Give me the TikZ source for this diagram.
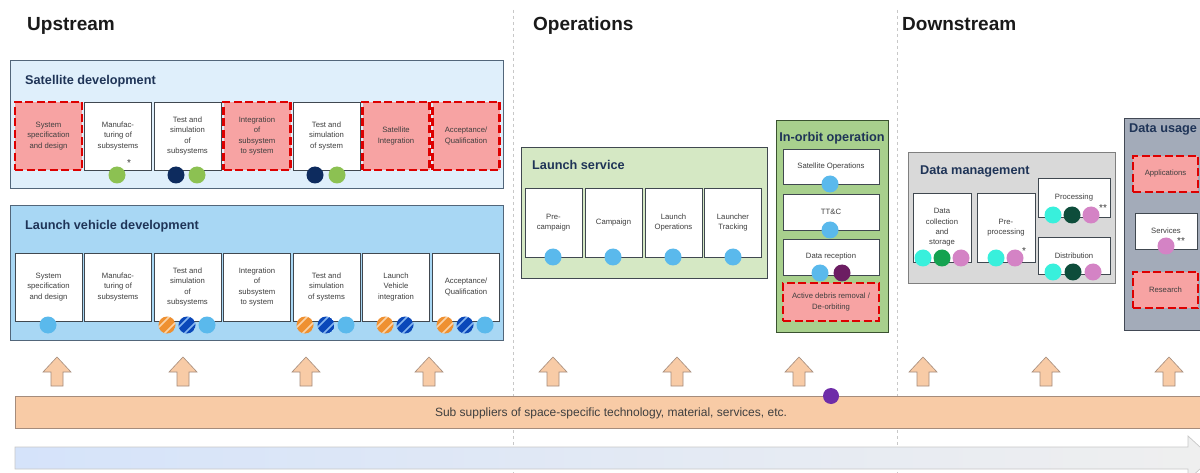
\documentclass[tikz,border=0pt]{standalone}
\usepackage{fontspec}
\setmainfont{Liberation Sans}
\definecolor{headtext}{HTML}{1A1A1A}
\definecolor{titletext}{HTML}{1F3457}
\definecolor{boxtext}{HTML}{3F3F3F}
\definecolor{boxline}{HTML}{404850}
\definecolor{redline}{HTML}{DD0000}
\definecolor{redfill}{HTML}{F7A3A3}
\definecolor{satfill}{HTML}{DFEFFB}
\definecolor{satline}{HTML}{52667A}
\definecolor{lvfill}{HTML}{A8D7F4}
\definecolor{lsfill}{HTML}{D5E8C4}
\definecolor{orbfill}{HTML}{A8D08D}
\definecolor{orbline}{HTML}{3A5230}
\definecolor{dmfill}{HTML}{D9D9D9}
\definecolor{dmline}{HTML}{7F7F7F}
\definecolor{dufill}{HTML}{A3ABB9}
\definecolor{duline}{HTML}{424955}
\definecolor{arrowfill}{HTML}{F8CBA6}
\definecolor{arrowline}{HTML}{A58C7C}
\definecolor{sepline}{HTML}{C8C8C8}
\definecolor{chainleft}{HTML}{D5E3FA}
\definecolor{chainmid}{HTML}{E6F0DE}
\definecolor{chainright}{HTML}{EFEFEF}
\definecolor{dotgreen}{HTML}{8CC152}
\definecolor{dotnavy}{HTML}{0D2B5E}
\definecolor{dotsky}{HTML}{5AB9EC}
\definecolor{dotorange}{HTML}{EF9030}
\definecolor{dotorangelt}{HTML}{FAD3A8}
\definecolor{dotblue}{HTML}{0A48BA}
\definecolor{dotbluelt}{HTML}{86B6F0}
\definecolor{dotcyan}{HTML}{38F0DC}
\definecolor{dotmid}{HTML}{14A250}
\definecolor{dotdark}{HTML}{0E4D3B}
\definecolor{dotpink}{HTML}{D483C5}
\definecolor{dotplum}{HTML}{6C1D62}
\definecolor{dotviolet}{HTML}{6F2DA8}
\newcommand{\stripedot}[4]{%
  \begin{scope}[shift={(#1,#2)}]
    \clip (0,0) circle (8.5pt);
    \fill[#3] (0,0) circle (8.5pt);
    \draw[#4, line width=1.6pt] (-11,5) -- (5,-11);
    \draw[#4, line width=1.6pt] (-5,11) -- (11,-5);
  \end{scope}}
\begin{document}
\begin{tikzpicture}[x=1pt,y=-1pt,
  box/.style={draw=boxline, fill=white, line width=0.8pt, align=center, text=boxtext,
    font=\fontsize{7.7}{10.3}\selectfont, inner sep=1pt},
  redbox/.style={box, draw=redline, fill=redfill, line width=2.6pt, dash pattern=on 8pt off 3.5pt},
  big/.style={minimum width=67pt, minimum height=68pt},
  head/.style={anchor=base west, inner sep=0pt, font=\fontsize{19}{22}\selectfont\bfseries, text=headtext},
  title/.style={anchor=base west, inner sep=0pt, font=\fontsize{12.7}{15}\selectfont\bfseries, text=titletext},
  uparrow/.style={draw=arrowline, fill=arrowfill, line width=0.6pt},
  star/.style={inner sep=0pt, font=\fontsize{10}{10}\selectfont, text=boxtext}]
\clip (0,0) rectangle (1200,473);
\fill[white] (0,0) rectangle (1200,473);

% separators and section heads
\draw[sepline, dashed, line width=0.6pt] (513,10) -- (513,473);
\draw[sepline, dashed, line width=0.6pt] (897,10) -- (897,473);
\node[head] (up) at (27,31) {Upstream};
\node[head] (ops) at (533,31) {Operations};
\node[head] (down) at (902,31) {Downstream};

% satellite development
\draw[fill=satfill, draw=satline, line width=0.8pt] (10,60) rectangle (503,188);
\node[title] (satt) at (25,85) {Satellite development};
\node[redbox, big] (sat1) at (48.5,136) {System\\specification\\and design};
\node[box, big] (sat2) at (118,136) {Manufac-\\turing of\\subsystems};
\node[box, big] (sat3) at (187.5,136) {Test and\\simulation\\of\\subsystems};
\node[redbox, big] (sat4) at (257,136) {Integration\\of\\subsystem\\to system};
\node[box, big] (sat5) at (326.5,136) {Test and\\simulation\\of system};
\node[redbox, big] (sat6) at (396,136) {Satellite\\Integration};
\node[redbox, big] (sat7) at (466,136) {Acceptance/\\Qualification};
\fill[dotgreen] (117,175) circle (8.5pt);
\node[star] (st1) at (129,163) {*};
\fill[dotnavy] (176,175) circle (8.5pt);
\fill[dotgreen] (197,175) circle (8.5pt);
\fill[dotnavy] (315,175) circle (8.5pt);
\fill[dotgreen] (337,175) circle (8.5pt);

% launch vehicle development
\draw[fill=lvfill, draw=satline, line width=0.8pt] (10,205) rectangle (503,340);
\node[title] (lvt) at (25,230) {Launch vehicle development};
\node[box, big] (lv1) at (48.5,287) {System\\specification\\and design};
\node[box, big] (lv2) at (118,287) {Manufac-\\turing of\\subsystems};
\node[box, big] (lv3) at (187.5,287) {Test and\\simulation\\of\\subsystems};
\node[box, big] (lv4) at (257,287) {Integration\\of\\subsystem\\to system};
\node[box, big] (lv5) at (326.5,287) {Test and\\simulation\\of systems};
\node[box, big] (lv6) at (396,287) {Launch\\Vehicle\\integration};
\node[box, big] (lv7) at (466,287) {Acceptance/\\Qualification};
\fill[dotsky] (48,325) circle (8.5pt);
\stripedot{167}{325}{dotorange}{dotorangelt}
\stripedot{187}{325}{dotblue}{dotbluelt}
\fill[dotsky] (207,325) circle (8.5pt);
\stripedot{305}{325}{dotorange}{dotorangelt}
\stripedot{326}{325}{dotblue}{dotbluelt}
\fill[dotsky] (346,325) circle (8.5pt);
\stripedot{385}{325}{dotorange}{dotorangelt}
\stripedot{405}{325}{dotblue}{dotbluelt}
\stripedot{445}{325}{dotorange}{dotorangelt}
\stripedot{465}{325}{dotblue}{dotbluelt}
\fill[dotsky] (485,325) circle (8.5pt);

% launch service
\draw[fill=lsfill, draw=boxline, line width=0.8pt] (521,147) rectangle (767,278);
\node[title] (lst) at (532,170) {Launch service};
\node[box, minimum width=57pt, minimum height=69pt] (ls1) at (553.5,222.5) {Pre-\\campaign};
\node[box, minimum width=57pt, minimum height=69pt] (ls2) at (613.5,222.5) {Campaign};
\node[box, minimum width=57pt, minimum height=69pt] (ls3) at (673.5,222.5) {Launch\\Operations};
\node[box, minimum width=57pt, minimum height=69pt] (ls4) at (733,222.5) {Launcher\\Tracking};
\fill[dotsky] (553,257) circle (8.5pt);
\fill[dotsky] (613,257) circle (8.5pt);
\fill[dotsky] (673,257) circle (8.5pt);
\fill[dotsky] (733,257) circle (8.5pt);

% in-orbit operation
\draw[fill=orbfill, draw=orbline, line width=0.9pt] (776,120) rectangle (888,332);
\node[title, anchor=base] (orbt) at (832,142) {In-orbit operation};
\node[box, minimum width=96pt, minimum height=35pt] (orb1) at (831,166.5) {Satellite Operations};
\node[box, minimum width=96pt, minimum height=36pt] (orb2) at (831,212) {TT\&C};
\node[box, minimum width=96pt, minimum height=36pt] (orb3) at (831,257) {Data reception};
\node[redbox, minimum width=96pt, minimum height=38pt] (orb4) at (831,302) {Active debris removal /\\De-orbiting};
\fill[dotsky] (830,184) circle (8.5pt);
\fill[dotsky] (830,230) circle (8.5pt);
\fill[dotsky] (820,273) circle (8.5pt);
\fill[dotplum] (842,273) circle (8.5pt);

% data management
\draw[fill=dmfill, draw=dmline, line width=0.8pt] (908,152) rectangle (1115,283);
\node[title] (dmt) at (920,175) {Data management};
\node[box, minimum width=58pt, minimum height=69pt] (dm1) at (942,227.5) {Data\\collection\\and\\storage};
\node[box, minimum width=58pt, minimum height=69pt] (dm2) at (1006,227.5) {Pre-\\processing};
\node[box, minimum width=72pt, minimum height=39pt] (dm3) at (1074,197.5) {Processing};
\node[box, minimum width=72pt, minimum height=37pt] (dm4) at (1074,255.5) {Distribution};
\fill[dotcyan] (923,258) circle (8.5pt);
\fill[dotmid] (942,258) circle (8.5pt);
\fill[dotpink] (961,258) circle (8.5pt);
\fill[dotcyan] (996,258) circle (8.5pt);
\fill[dotpink] (1015,258) circle (8.5pt);
\node[star] (st2) at (1024,251) {*};
\fill[dotcyan] (1053,215) circle (8.5pt);
\fill[dotdark] (1072,215) circle (8.5pt);
\fill[dotpink] (1091,215) circle (8.5pt);
\node[star] (st3) at (1103,208) {**};
\fill[dotcyan] (1053,272) circle (8.5pt);
\fill[dotdark] (1073,272) circle (8.5pt);
\fill[dotpink] (1093,272) circle (8.5pt);

% data usage
\draw[fill=dufill, draw=duline, line width=0.9pt] (1124,118) rectangle (1215,330);
\node[title] (dut) at (1129,133) {Data usage};
\node[redbox, minimum width=65pt, minimum height=36pt] (du1) at (1165.5,174) {Applications};
\node[box, minimum width=62pt, minimum height=36pt] (du2) at (1166,231) {Services};
\node[redbox, minimum width=65pt, minimum height=36pt] (du3) at (1165.5,290) {Research};
\fill[dotpink] (1166,246) circle (8.5pt);
\node[star] (st4) at (1181,241) {**};

% up arrows
\draw[uparrow] (57,357)--++(14,15)--++(-8,0)--++(0,14)--++(-12,0)--++(0,-14)--++(-8,0)--cycle;
\draw[uparrow] (183,357)--++(14,15)--++(-8,0)--++(0,14)--++(-12,0)--++(0,-14)--++(-8,0)--cycle;
\draw[uparrow] (306,357)--++(14,15)--++(-8,0)--++(0,14)--++(-12,0)--++(0,-14)--++(-8,0)--cycle;
\draw[uparrow] (429,357)--++(14,15)--++(-8,0)--++(0,14)--++(-12,0)--++(0,-14)--++(-8,0)--cycle;
\draw[uparrow] (553,357)--++(14,15)--++(-8,0)--++(0,14)--++(-12,0)--++(0,-14)--++(-8,0)--cycle;
\draw[uparrow] (677,357)--++(14,15)--++(-8,0)--++(0,14)--++(-12,0)--++(0,-14)--++(-8,0)--cycle;
\draw[uparrow] (799,357)--++(14,15)--++(-8,0)--++(0,14)--++(-12,0)--++(0,-14)--++(-8,0)--cycle;
\draw[uparrow] (923,357)--++(14,15)--++(-8,0)--++(0,14)--++(-12,0)--++(0,-14)--++(-8,0)--cycle;
\draw[uparrow] (1046,357)--++(14,15)--++(-8,0)--++(0,14)--++(-12,0)--++(0,-14)--++(-8,0)--cycle;
\draw[uparrow] (1169,357)--++(14,15)--++(-8,0)--++(0,14)--++(-12,0)--++(0,-14)--++(-8,0)--cycle;

% sub suppliers bar
\draw[fill=arrowfill, draw=arrowline, line width=0.7pt] (15,396) rectangle (1215,428);
\node[inner sep=0pt, font=\fontsize{12}{14}\selectfont, text=boxtext] (supp) at (611,413)
  {Sub suppliers of space-specific technology, material, services, etc.};
\fill[dotviolet] (831,396) circle (8pt);

% value chain arrow
\shade[left color=chainleft, middle color=chainmid, right color=chainright]
  (15,447) -- (1188,447) -- (1188,436) -- (1212,458) -- (1188,480) -- (1188,469) -- (15,469) -- cycle;
\draw[draw=sepline, line width=0.7pt]
  (15,447) -- (1188,447) -- (1188,436) -- (1212,458) -- (1188,480) -- (1188,469) -- (15,469) -- cycle;
\end{tikzpicture}
\end{document}
